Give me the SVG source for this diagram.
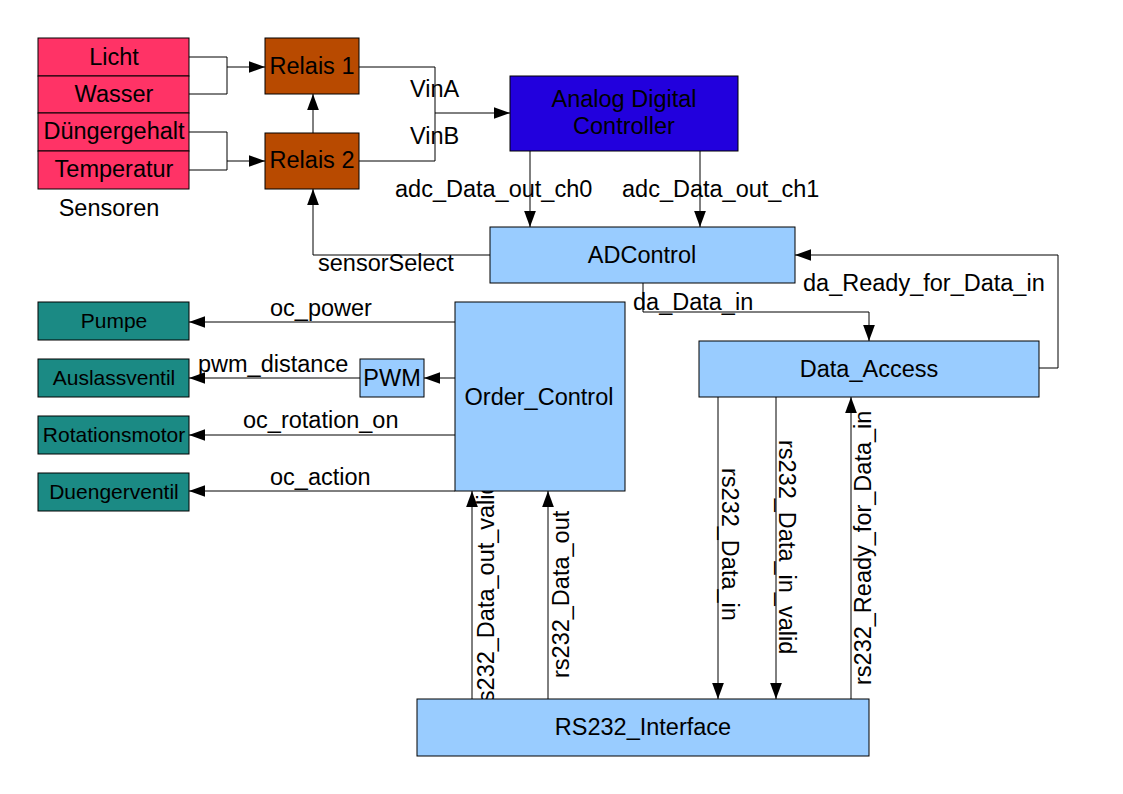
<svg xmlns="http://www.w3.org/2000/svg" width="1123" height="794" viewBox="0 0 1123 794">
<style>
text{font-family:"Liberation Sans",Arial,sans-serif;font-size:23.5px;fill:#000}
.c{text-anchor:middle}
.s{font-size:21px}
.box{stroke:#000;stroke-width:1}
.sen{fill:#ff3366}
.rel{fill:#b84a00}
.adc{fill:#2200dd}
.lb{fill:#99ccff}
.teal{fill:#1b8a84}
.ln{fill:none;stroke:#000;stroke-width:1}
.ar{marker-end:url(#ah)}
</style>
<defs>
<marker id="ah" markerUnits="userSpaceOnUse" markerWidth="16" markerHeight="12" refX="15" refY="5.5" orient="auto" viewBox="0 0 15 11">
<path d="M0,0 L15,5.5 L0,11 z" fill="#000"/>
</marker>
</defs>
<rect width="1123" height="794" fill="#fff"/>

<g id="connectors">
<path class="ln" d="M189,57 H227 V94 H189"/>
<path class="ln ar" d="M227,67 H265"/>
<path class="ln" d="M189,132 H227 V170 H189"/>
<path class="ln ar" d="M227,161 H265"/>
<path class="ln ar" d="M313,133 V94"/>
<path class="ln" d="M359,67 H435 V161 H359"/>
<path class="ln ar" d="M435,113 H510"/>
<path class="ln ar" d="M530,151 V227"/>
<path class="ln ar" d="M700,151 V227"/>
<path class="ln ar" d="M490,255 H313 V189"/>
<path class="ln ar" d="M1039,368 H1058 V255 H795"/>
<path class="ln ar" d="M643,283 V312 H869 V341"/>
<path class="ln ar" d="M455,322 H189"/>
<path class="ln ar" d="M455,378 H424"/>
<path class="ln ar" d="M360,378 H189"/>
<path class="ln ar" d="M455,435 H189"/>
<path class="ln ar" d="M455,491 H189"/>
<path class="ln ar" d="M472,699 V491"/>
<path class="ln ar" d="M548,699 V491"/>
<path class="ln ar" d="M718,397 V699"/>
<path class="ln ar" d="M776,397 V699"/>
<path class="ln ar" d="M851,699 V397"/>
<text x="410" y="97">VinA</text>
<text x="410" y="144">VinB</text>
<text x="395" y="197">adc_Data_out_ch0</text>
<text x="622" y="197">adc_Data_out_ch1</text>
<text x="318" y="271">sensorSelect</text>
<text x="803" y="291">da_Ready_for_Data_in</text>
<text x="633" y="310">da_Data_in</text>
<text x="270" y="316">oc_power</text>
<text x="198" y="372">pwm_distance</text>
<text x="243" y="428">oc_rotation_on</text>
<text x="270" y="485">oc_action</text>
<text x="494" y="710" transform="rotate(-90 494 710)">rs232_Data_out_valid</text>
<text x="569" y="678" transform="rotate(-90 569 678)">rs232_Data_out</text>
<text x="722" y="468" transform="rotate(90 722 468)">rs232_Data_in</text>
<text x="779" y="440" transform="rotate(90 779 440)">rs232_Data_in_valid</text>
<text x="871" y="685" transform="rotate(-90 871 685)">rs232_Ready_for_Data_in</text>
</g>

<g id="sensoren">
<rect class="box sen" x="38" y="38" width="151" height="38"/>
<rect class="box sen" x="38" y="76" width="151" height="37"/>
<rect class="box sen" x="38" y="113" width="151" height="38"/>
<rect class="box sen" x="38" y="151" width="151" height="38"/>
<text class="c" x="114" y="65">Licht</text>
<text class="c" x="114" y="102">Wasser</text>
<text class="c" x="114" y="139">Düngergehalt</text>
<text class="c" x="114" y="177">Temperatur</text>
<text class="c" x="109" y="216">Sensoren</text>
</g>

<g id="relais1">
<rect class="box rel" x="265" y="38" width="94" height="56"/>
<text class="c" x="312" y="74">Relais 1</text>
</g>
<g id="relais2">
<rect class="box rel" x="265" y="133" width="94" height="56"/>
<text class="c" x="312" y="168">Relais 2</text>
</g>

<g id="adc">
<rect class="box adc" x="510" y="76" width="228" height="75"/>
<text class="c" x="624" y="107">Analog Digital</text>
<text class="c" x="624" y="134">Controller</text>
</g>

<g id="adcontrol">
<rect class="box lb" x="490" y="227" width="305" height="56"/>
<text class="c" x="642" y="263">ADControl</text>
</g>

<g id="data_access">
<rect class="box lb" x="699" y="341" width="340" height="56"/>
<text class="c" x="869" y="377">Data_Access</text>
</g>

<g id="order_control">
<rect class="box lb" x="455" y="302" width="170" height="189"/>
<text class="c" x="539" y="405">Order_Control</text>
</g>

<g id="pwm">
<rect class="box lb" x="360" y="359" width="64" height="38"/>
<text class="c" x="392" y="386">PWM</text>
</g>

<g id="pumpe">
<rect class="box teal" x="38" y="302" width="151" height="38"/>
<text class="c s" x="114" y="328">Pumpe</text>
</g>
<g id="auslassventil">
<rect class="box teal" x="38" y="359" width="151" height="38"/>
<text class="c s" x="114" y="385">Auslassventil</text>
</g>
<g id="rotationsmotor">
<rect class="box teal" x="38" y="416" width="151" height="38"/>
<text class="c s" x="114" y="442">Rotationsmotor</text>
</g>
<g id="duengerventil">
<rect class="box teal" x="38" y="473" width="151" height="38"/>
<text class="c s" x="114" y="499">Duengerventil</text>
</g>

<g id="rs232_interface">
<rect class="box lb" x="417" y="699" width="452" height="57"/>
<text class="c" x="643" y="735">RS232_Interface</text>
</g>
</svg>
